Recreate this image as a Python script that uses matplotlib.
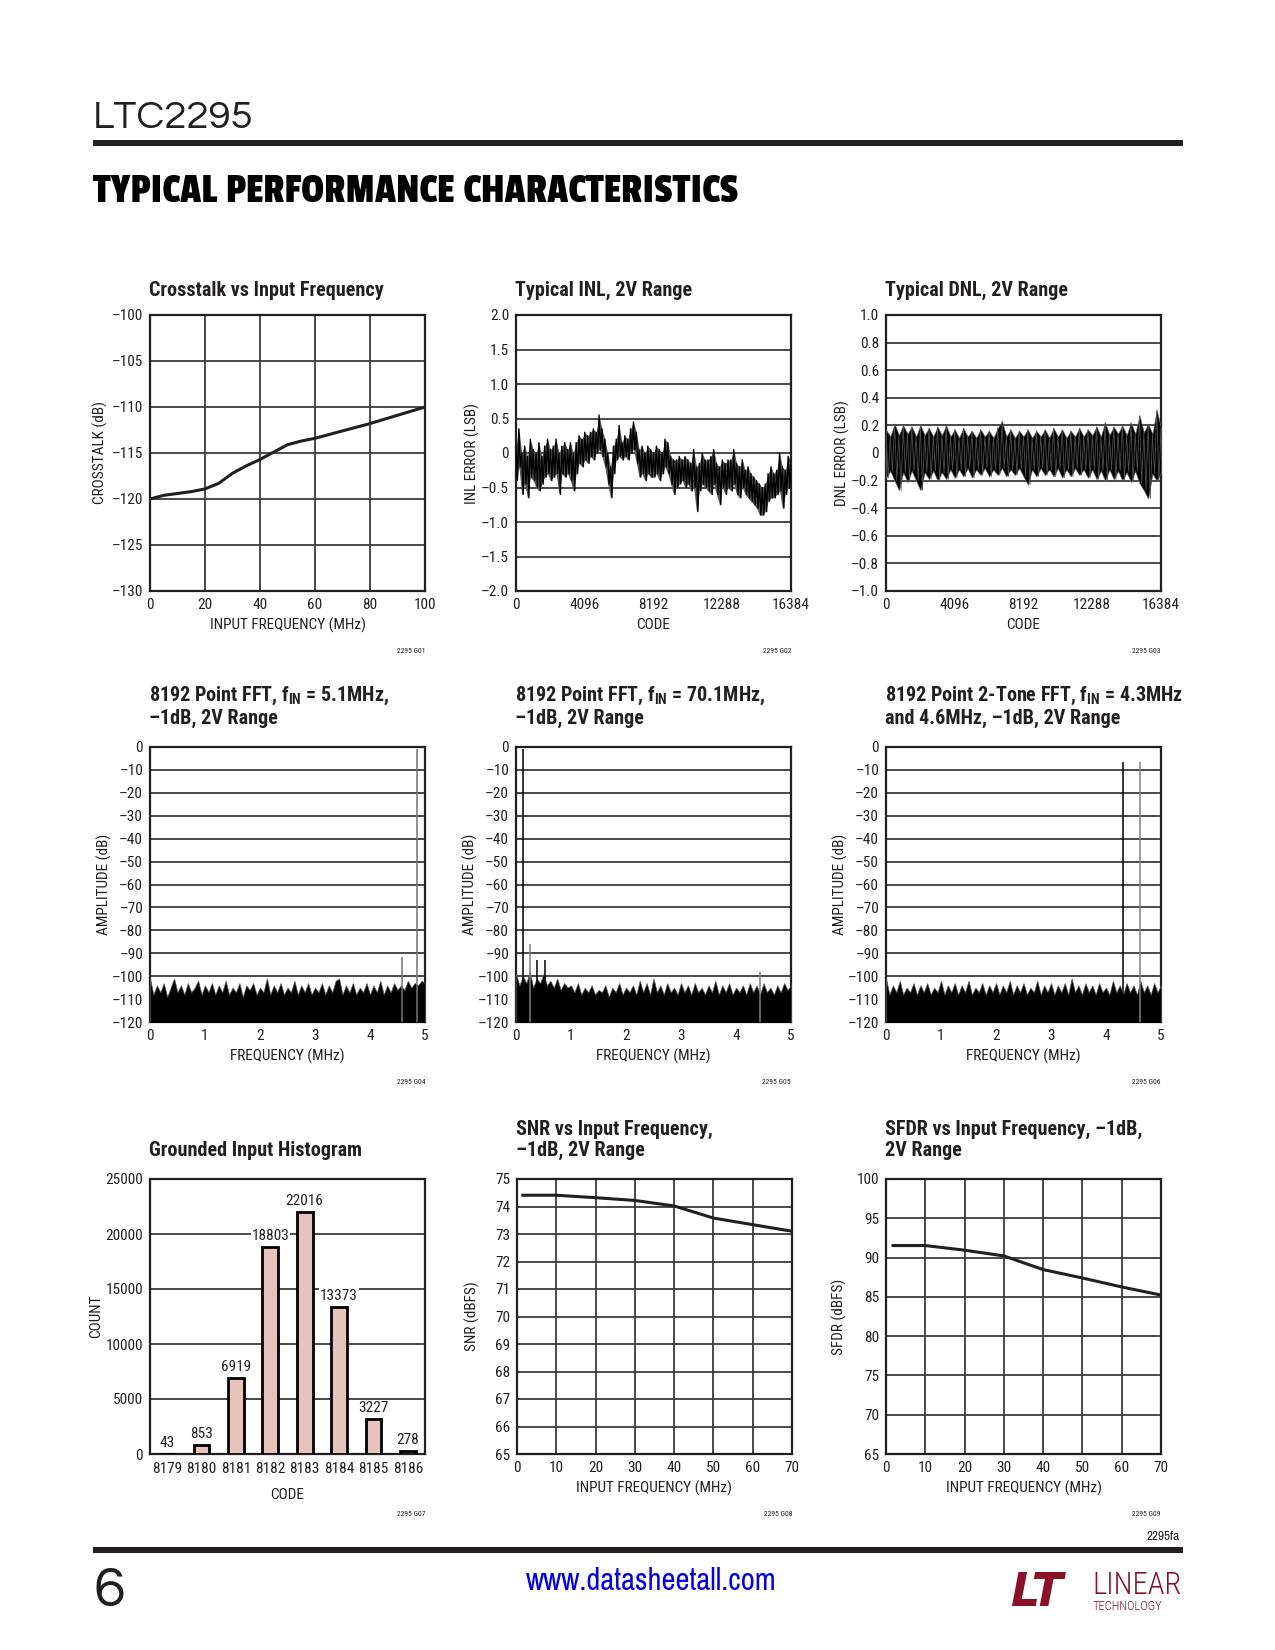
import numpy as np
import matplotlib
matplotlib.use("Agg")
import matplotlib.pyplot as plt
from matplotlib import font_manager
from matplotlib.patches import Rectangle

# ---- data ----
xtalk_freq = [0, 5, 10, 15, 20, 25, 30, 35, 40, 45, 50, 55, 60, 70, 80, 90, 100]
xtalk_db = [-120, -119.6, -119.4, -119.2, -118.9, -118.3, -117.2, -116.4, -115.7,
            -114.9, -114.1, -113.7, -113.4, -112.6, -111.8, -110.9, -110]

# INL envelope (upper / lower trace) at 97 evenly spaced codes
inl_hi = [0.1, 0.35, 0.0, 0.1, -0.05, 0.2, 0.05, 0.0, 0.15, -0.05,
          0.1, 0.2, 0.05, 0.1, 0.2, 0.0, 0.1, 0.15, 0.05, 0.15,
          0.0, 0.15, 0.25, 0.2, 0.3, 0.25, 0.3, 0.35, 0.3, 0.55,
          0.35, 0.2, 0.0, -0.2, 0.1, 0.2, 0.4, 0.15, 0.25, 0.2,
          0.35, 0.45, 0.3, 0.05, 0.1, 0.0, 0.1, 0.05, 0.0, 0.1,
          0.05, 0.0, 0.2, 0.15, -0.05, -0.1, -0.1, -0.05, -0.1, -0.05,
          -0.1, -0.15, 0.05, -0.2, -0.15, 0.0, -0.1, -0.1, -0.05, 0.05,
          -0.15, -0.2, -0.1, -0.15, -0.1, -0.1, 0.05, -0.15, -0.2, -0.1,
          -0.25, -0.2, -0.3, -0.35, -0.4, -0.45, -0.5, -0.45, -0.3, -0.2,
          -0.3, -0.25, 0.0, -0.2, -0.25, -0.05, -0.1]
inl_lo = [-0.4, -0.2, -0.6, -0.45, -0.65, -0.35, -0.4, -0.5, -0.55, -0.45,
          -0.35, -0.3, -0.4, -0.35, -0.3, -0.6, -0.3, -0.35, -0.3, -0.4,
          -0.55, -0.3, -0.15, -0.2, -0.1, -0.15, -0.05, -0.1, 0.0, 0.05,
          -0.05, -0.2, -0.45, -0.65, -0.3, -0.1, -0.05, -0.1, -0.05, -0.1,
          0.0, 0.05, -0.15, -0.35, -0.3, -0.4, -0.3, -0.35, -0.35, -0.3,
          -0.4, -0.3, -0.2, -0.3, -0.45, -0.6, -0.5, -0.45, -0.4, -0.5,
          -0.45, -0.55, -0.5, -0.85, -0.55, -0.45, -0.5, -0.55, -0.6, -0.45,
          -0.6, -0.75, -0.5, -0.6, -0.5, -0.55, -0.45, -0.6, -0.65, -0.5,
          -0.6, -0.65, -0.7, -0.75, -0.8, -0.9, -0.9, -0.85, -0.7, -0.65,
          -0.65, -0.6, -0.55, -0.8, -0.6, -0.5, -0.4]

# DNL envelope at 65 evenly spaced codes
dnl_hi = [0.17, 0.12, 0.21, 0.13, 0.2, 0.14, 0.19, 0.12, 0.2, 0.13, 0.18, 0.12, 0.19, 0.13, 0.2, 0.12,
          0.17, 0.11, 0.18, 0.12, 0.16, 0.11, 0.17, 0.12, 0.16, 0.11, 0.18, 0.23, 0.12, 0.17, 0.11, 0.16,
          0.12, 0.17, 0.11, 0.16, 0.12, 0.17, 0.11, 0.18, 0.12, 0.17, 0.11, 0.16, 0.12, 0.18, 0.12, 0.17,
          0.13, 0.19, 0.12, 0.22, 0.13, 0.19, 0.14, 0.2, 0.13, 0.22, 0.14, 0.27, 0.15, 0.21, 0.14, 0.31, 0.18]
dnl_lo = [-0.18, -0.13, -0.2, -0.27, -0.14, -0.21, -0.13, -0.2, -0.27, -0.14, -0.19, -0.13, -0.2, -0.14, -0.19, -0.12,
          -0.18, -0.12, -0.17, -0.11, -0.18, -0.12, -0.16, -0.11, -0.17, -0.12, -0.16, -0.11, -0.17, -0.12, -0.16, -0.11,
          -0.17, -0.23, -0.12, -0.17, -0.11, -0.16, -0.12, -0.17, -0.11, -0.18, -0.12, -0.17, -0.11, -0.16, -0.12, -0.18,
          -0.12, -0.19, -0.13, -0.2, -0.12, -0.19, -0.13, -0.2, -0.14, -0.21, -0.13, -0.22, -0.27, -0.33, -0.15, -0.2, -0.14]

# FFT noise floor tops at 81 evenly spaced bins 0..5MHz
fft1_floor = [-101, -108, -104, -107, -103, -109, -105, -101, -107, -104,
              -108, -103, -107, -105, -102, -108, -104, -107, -103, -108,
              -104, -107, -102, -108, -105, -107, -103, -109, -104, -106,
              -103, -108, -105, -107, -101, -108, -104, -107, -103, -108,
              -105, -107, -102, -108, -104, -107, -103, -108, -105, -107,
              -103, -108, -104, -107, -102, -101, -108, -104, -107, -103,
              -108, -105, -107, -103, -108, -104, -107, -102, -108, -104,
              -107, -103, -106, -104, -106, -102, -105, -103, -104, -102,
              -103]
fft1_tone_f = [4.86, 4.59]
fft1_tone_db = [-0.9, -91.8]

fft2_floor = [-99, -104, -100, -103, -98, -105, -101, -103, -99, -104,
              -102, -105, -101, -106, -103, -105, -104, -107, -103, -108,
              -105, -107, -104, -108, -106, -107, -104, -109, -105, -107,
              -103, -108, -105, -107, -104, -108, -102, -107, -103, -108,
              -101, -107, -104, -108, -103, -107, -105, -108, -103, -107,
              -104, -108, -103, -107, -105, -108, -104, -107, -102, -108,
              -104, -107, -103, -108, -105, -107, -104, -108, -103, -107,
              -104, -108, -103, -107, -105, -108, -104, -107, -103, -106,
              -104]
fft2_tone_f = [0.127, 0.26, 0.39, 0.52, 4.43]
fft2_tone_db = [-0.7, -86, -93, -93, -98]

fft3_floor = [-101, -108, -104, -107, -102, -108, -105, -107, -103, -108,
              -104, -107, -103, -108, -105, -107, -102, -108, -104, -107,
              -103, -108, -104, -107, -102, -108, -105, -107, -103, -108,
              -104, -107, -103, -108, -104, -107, -102, -108, -104, -107,
              -103, -108, -105, -107, -102, -108, -104, -107, -103, -108,
              -104, -107, -103, -108, -101, -107, -104, -108, -103, -107,
              -104, -108, -103, -107, -105, -108, -102, -107, -104, -108,
              -103, -107, -104, -108, -102, -107, -104, -108, -103, -107,
              -104]
fft3_tone_f = [4.31, 4.62]
fft3_tone_db = [-6.7, -6.7]

hist_code = [8179, 8180, 8181, 8182, 8183, 8184, 8185, 8186]
hist_count = [43, 853, 6919, 18803, 22016, 13373, 3227, 278]

snr_freq = [1.5, 10, 20, 30, 40, 50, 60, 70]
snr_db = [74.41, 74.41, 74.32, 74.22, 74.02, 73.58, 73.34, 73.1]

sfdr_freq = [1.8, 10, 20, 30, 40, 50, 60, 70]
sfdr_db = [91.53, 91.53, 90.94, 90.21, 88.47, 87.4, 86.26, 85.23]

# ---- fonts / colours ----
names = {f.name for f in font_manager.fontManager.ttflist}


def pick(*fams):
    for f in fams:
        if f in names:
            return f
    return 'DejaVu Sans'


COND = pick('Roboto Condensed', 'Archivo Narrow', 'Liberation Sans')
NARROW = pick('Archivo Narrow', 'PT Sans Narrow', 'Roboto Condensed')
GOTHIC = pick('Questrial', 'Didact Gothic', 'Lato')
DISPLAY = pick('Passion One', 'Changa One', 'Anton')
INK = '#231f20'
GRID = '#3c3c3c'

plt.rcParams['font.family'] = [COND, 'DejaVu Sans']
plt.rcParams['mathtext.fontset'] = 'custom'
plt.rcParams['mathtext.rm'] = COND + ':bold'
plt.rcParams['mathtext.default'] = 'rm'
plt.rcParams['text.color'] = INK

TICK = 11
TITLE = 14.5

W, H = 1275, 1650
fig = plt.figure(figsize=(W / 100, H / 100), dpi=100)


def fx(x):
    return x / W


def fy(y):
    return 1 - y / H


def make_ax(left, top, w=275, h=275):
    return fig.add_axes([fx(left), fy(top + h), w / W, h / H])


def dash(v, fmt):
    s = fmt.format(v)
    if float(v) == 0:
        s = '0'
    return s.replace('-', '\u2013')


def frame(ax, xlim, ylim, xticks, yticks, xlab, ylab, xfmt='{:g}', yfmt='{:g}',
          vgrid=False, ylab_off=46, xlab_off=34, fig_id=''):
    ax.set_xlim(xlim)
    ax.set_ylim(ylim)
    ax.set_xticks(xticks)
    ax.set_yticks(yticks)
    ax.set_xticklabels([dash(v, xfmt) for v in xticks])
    ax.set_yticklabels([dash(v, yfmt) for v in yticks])
    ax.tick_params(length=0, labelsize=TICK, colors=INK, pad=5)
    for s in ax.spines.values():
        s.set_linewidth(1.6)
        s.set_color(INK)
    for y in yticks[1:-1]:
        ax.axhline(y, color=GRID, lw=1.3, zorder=1)
    if vgrid:
        for x in xticks[1:-1]:
            ax.axvline(x, color=GRID, lw=1.3, zorder=1)
    ax.set_xlabel(xlab, fontsize=TICK, color=INK, va='center')
    ax.xaxis.set_label_coords(0.5, -xlab_off / 275)
    ax.set_ylabel(ylab, fontsize=TICK, color=INK, va='center')
    ax.yaxis.set_label_coords(-ylab_off / 275, 0.5)
    ax.text(1.0, -60 / 275, fig_id, transform=ax.transAxes, ha='right', va='center',
            fontsize=5.5, color=INK)


def title(ax, txt, above=23):
    # baseline of the last line sits `above` px over the frame
    ax.text(-0.005, 1 + above / 275, txt, transform=ax.transAxes, ha='left',
            va='baseline', fontsize=TITLE, fontweight='bold', color=INK, linespacing=1.15)


def zigzag(ax, x, hi, lo, **kw):
    x = np.asarray(x, float)
    step = x[1] - x[0]
    xs = np.empty(2 * len(x))
    ys = np.empty(2 * len(x))
    xs[0::2], xs[1::2] = x, x + step / 2
    ys[0::2], ys[1::2] = hi, lo
    ax.plot(xs, ys, **kw)


COLS = [150, 516, 886]
ROWS = [315, 747, 1179]

# ---- row 1 ----
ax = make_ax(COLS[0], ROWS[0], h=276)
ax.plot(xtalk_freq, xtalk_db, color=INK, lw=2.2, zorder=3)
frame(ax, (0, 100), (-130, -100), [0, 20, 40, 60, 80, 100], list(range(-130, -99, 5)),
      'INPUT FREQUENCY (MHz)', 'CROSSTALK (dB)', vgrid=True, ylab_off=50, fig_id='2295 G01')
title(ax, 'Crosstalk vs Input Frequency', 19)

ax = make_ax(COLS[1], ROWS[0], h=276)
inl_code = np.linspace(0, 16384, len(inl_hi))
ax.fill_between(inl_code, inl_lo, inl_hi, color='0.35', lw=0, zorder=2)
zigzag(ax, inl_code, inl_hi, inl_lo, color='black', lw=1.0, zorder=3)
frame(ax, (0, 16384), (-2, 2), [0, 4096, 8192, 12288, 16384], list(np.arange(-2, 2.01, 0.5)),
      'CODE', 'INL ERROR (LSB)', yfmt='{:.1f}', ylab_off=44, fig_id='2295 G02')
title(ax, 'Typical INL, 2V Range', 19)

ax = make_ax(COLS[2], ROWS[0], h=276)
dnl_code = np.linspace(0, 16384, len(dnl_hi))
ax.fill_between(dnl_code, dnl_lo, dnl_hi, color='black', lw=0.5, edgecolor='0.4', zorder=3)
zigzag(ax, dnl_code, dnl_hi, dnl_lo, color='0.3', lw=0.6, zorder=3)
frame(ax, (0, 16384), (-1, 1), [0, 4096, 8192, 12288, 16384], list(np.round(np.arange(-1, 1.01, 0.2), 1)),
      'CODE', 'DNL ERROR (LSB)', yfmt='{:.1f}', ylab_off=44, fig_id='2295 G03')
title(ax, 'Typical DNL, 2V Range', 19)

# ---- row 2: FFTs ----
fft_sets = [
    (fft1_floor, fft1_tone_f, fft1_tone_db, ['0.45', '0.45'],
     '8192 Point FFT, f$_{IN}$ = 5.1MHz,\n\u20131dB, 2V Range', '2295 G04'),
    (fft2_floor, fft2_tone_f, fft2_tone_db, ['black', '0.5', 'black', 'black', '0.5'],
     '8192 Point FFT, f$_{IN}$ = 70.1MHz,\n\u20131dB, 2V Range', '2295 G05'),
    (fft3_floor, fft3_tone_f, fft3_tone_db, ['black', '0.5'],
     '8192 Point 2-Tone FFT, f$_{IN}$ = 4.3MHz\nand 4.6MHz, \u20131dB, 2V Range', '2295 G06'),
]
for col, (floor, tf, tdb, tcol, ttl, fid) in zip(COLS, fft_sets):
    ax = make_ax(col, ROWS[1])
    freq = np.linspace(0, 5, len(floor))
    ax.fill_between(freq, -121, floor, color='black', lw=0.5, edgecolor='0.35', zorder=3)
    ax.vlines(tf, -121, tdb, colors=tcol, lw=1.1, zorder=4)
    frame(ax, (0, 5), (-120, 0), [0, 1, 2, 3, 4, 5], list(range(-120, 1, 10)),
          'FREQUENCY (MHz)', 'AMPLITUDE (dB)', ylab_off=46, fig_id=fid)
    title(ax, ttl)

# ---- row 3 ----
ax = make_ax(COLS[0], ROWS[2])
ax.bar(hist_code, hist_count, width=0.46, color='#e6c3bd', edgecolor='black', lw=2, zorder=3)
for c, n in zip(hist_code, hist_count):
    ax.text(c, n + 350, str(n), ha='center', va='bottom', fontsize=TICK, zorder=4,
            bbox=dict(boxstyle='square,pad=0.05', fc='white', ec='none'))
frame(ax, (8178.5, 8186.5), (0, 25000), hist_code, list(range(0, 25001, 5000)),
      'CODE', 'COUNT', ylab_off=54, xlab_off=41, fig_id='2295 G07')
ax.tick_params(axis='x', pad=6)
title(ax, 'Grounded Input Histogram')

ax = make_ax(COLS[1] + 1, ROWS[2])
ax.plot(snr_freq, snr_db, color=INK, lw=2.2, zorder=3)
frame(ax, (0, 70), (65, 75), list(range(0, 71, 10)), list(range(65, 76)),
      'INPUT FREQUENCY (MHz)', 'SNR (dBFS)', vgrid=True, ylab_off=45, fig_id='2295 G08')
title(ax, 'SNR vs Input Frequency,\n\u20131dB, 2V Range')

ax = make_ax(COLS[2], ROWS[2])
ax.plot(sfdr_freq, sfdr_db, color=INK, lw=2.2, zorder=3)
frame(ax, (0, 70), (65, 100), list(range(0, 71, 10)), list(range(65, 101, 5)),
      'INPUT FREQUENCY (MHz)', 'SFDR (dBFS)', vgrid=True, ylab_off=47, fig_id='2295 G09')
title(ax, 'SFDR vs Input Frequency, \u20131dB,\n2V Range')

# ---- page header / footer ----
fig.text(fx(93), fy(118), 'LTC2295', fontsize=29, family=[GOTHIC, 'DejaVu Sans'],
         va='center', ha='left', color=INK)
fig.add_artist(Rectangle((fx(93), fy(146)), fx(1183) - fx(93), 6 / H,
                         transform=fig.transFigure, color=INK, lw=0))
fig.text(fx(93), fy(192), 'TYPICAL PERFORMANCE CHARACTERISTICS', fontsize=31,
         family=[DISPLAY, 'DejaVu Sans'], va='center', ha='left', color='black')

fig.text(fx(1180), fy(1537), '2295fa', fontsize=9.5, family=[NARROW, 'DejaVu Sans'],
         ha='right', va='center', color=INK)
fig.add_artist(Rectangle((fx(93), fy(1553)), fx(1183) - fx(93), 6 / H,
                         transform=fig.transFigure, color=INK, lw=0))
fig.text(fx(93), fy(1592), '6', fontsize=41, family=[GOTHIC, 'DejaVu Sans'],
         va='center', ha='left', color=INK)
fig.text(fx(651), fy(1581), 'www.datasheetall.com', fontsize=22, family=[NARROW, 'DejaVu Sans'],
         color='#0000ee', ha='center', va='center')
LOGO = '#8b1028'
fig.text(fx(1010), fy(1593), 'LT', fontsize=33, fontweight='bold', style='italic',
         color=LOGO, va='center', ha='left', family='DejaVu Sans')
fig.text(fx(1092), fy(1586), 'LINEAR', fontsize=22, color=LOGO, va='center', ha='left',
         fontweight='light')
fig.text(fx(1093), fy(1606), 'TECHNOLOGY', fontsize=9, color=LOGO, va='center', ha='left',
         fontweight='light')

fig.savefig('out.png', dpi=100, facecolor='white')
